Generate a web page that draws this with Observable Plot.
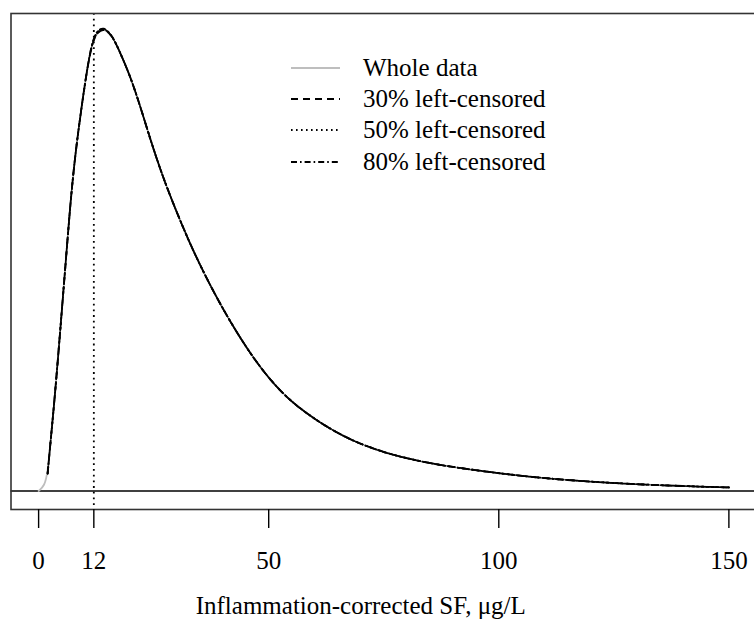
<!DOCTYPE html>
<html>
<head>
<meta charset="utf-8">
<script src="https://cdn.jsdelivr.net/npm/d3@7"></script>
<script src="https://cdn.jsdelivr.net/npm/@observablehq/plot@0.6"></script>
<style>
  html, body { margin: 0; padding: 0; background: #fff; overflow: hidden; }
  #wrap { position: relative; width: 754px; height: 627px; }
  #legend { position: absolute; left: 290px; top: 52px; font-family: "Liberation Serif", "Times New Roman", serif; font-size: 25px; color: #000; }
  #legend .row { display: flex; align-items: center; height: 31.3px; }
  #legend svg { width: 52px; height: 10px; margin-right: 21px; }
</style>
</head>
<body>
<div id="wrap"></div>
<script>
// Inflammation-corrected SF (µg/L) grid
const sf = [0, 1.30, 1.96, 2.72, 3.48, 4.35, 5.22, 6.09, 6.96, 7.83, 8.70, 9.78, 10.87, 11.74, 12.61, 13.48, 14.13, 14.78, 15.65, 16.74, 18.26, 20.00, 22.17, 24.35, 26.52, 28.70, 33.70, 40.22, 46.09, 50.43, 55.43, 64.13, 71.52, 78.70, 85.22, 89.57, 104.13, 118.48, 133.04, 150.0];
// Estimated densities (y axis unlabeled)
const densWhole = [0, 0.00043, 0.00138, 0.00438, 0.00731, 0.01110, 0.01505, 0.01900, 0.02295, 0.02611, 0.02864, 0.03148, 0.03401, 0.03543, 0.03614, 0.03638, 0.03642, 0.03634, 0.03606, 0.03543, 0.03417, 0.03267, 0.03030, 0.02769, 0.02532, 0.02319, 0.01876, 0.01418, 0.01077, 0.00871, 0.00681, 0.00466, 0.00345, 0.00267, 0.00219, 0.00191, 0.00119, 0.00075, 0.00047, 0.00028];
const dens30 = [null, null, 0.00138, 0.00438, 0.00731, 0.01110, 0.01505, 0.01900, 0.02295, 0.02611, 0.02864, 0.03148, 0.03401, 0.03543, 0.03614, 0.03638, 0.03642, 0.03634, 0.03606, 0.03543, 0.03417, 0.03267, 0.03030, 0.02769, 0.02532, 0.02319, 0.01876, 0.01418, 0.01077, 0.00871, 0.00681, 0.00466, 0.00345, 0.00267, 0.00219, 0.00191, 0.00119, 0.00075, 0.00047, 0.00028];
const dens50 = [null, null, 0.00138, 0.00438, 0.00731, 0.01110, 0.01505, 0.01900, 0.02295, 0.02611, 0.02864, 0.03148, 0.03405, 0.03550, 0.03622, 0.03646, 0.03648, 0.03638, 0.03606, 0.03543, 0.03417, 0.03267, 0.03030, 0.02769, 0.02532, 0.02319, 0.01876, 0.01418, 0.01077, 0.00871, 0.00681, 0.00466, 0.00345, 0.00267, 0.00219, 0.00191, 0.00119, 0.00075, 0.00047, 0.00028];
const dens80 = [null, null, 0.00138, 0.00438, 0.00731, 0.01110, 0.01505, 0.01900, 0.02295, 0.02611, 0.02864, 0.03148, 0.03410, 0.03556, 0.03628, 0.03652, 0.03654, 0.03642, 0.03610, 0.03543, 0.03417, 0.03267, 0.03030, 0.02769, 0.02532, 0.02319, 0.01876, 0.01418, 0.01077, 0.00871, 0.00681, 0.00466, 0.00345, 0.00267, 0.00219, 0.00191, 0.00119, 0.00075, 0.00047, 0.00028];

const seriesNames = ["Whole data", "30% left-censored", "50% left-censored", "80% left-censored"];
const seriesDens = [densWhole, dens30, dens50, dens80];
const seriesStroke = ["#bebebe", "#000", "#000", "#000"];
const seriesDash = [null, "7 5", "1.6 3.4", "6 3 1.6 3"];
const xTicks = [0, 12, 50, 100, 150];
const cutoff = [12];
const xLabel = "Inflammation-corrected SF, μg/L";

const serif = '"Liberation Serif", "Times New Roman", serif';

const lineMarks = seriesDens.map((d, i) => {
  const rows = sf.map((x, j) => ({x, y: d[j]})).filter(r => r.y != null);
  return Plot.line(rows, {x: "x", y: "y", curve: "basis", stroke: seriesStroke[i], strokeWidth: 1.8, strokeDasharray: seriesDash[i]});
});

const chart = Plot.plot({
  width: 754,
  height: 627,
  marginTop: 13,
  marginBottom: 118,
  marginLeft: 10.5,
  marginRight: -2,
  style: {fontFamily: serif, fontSize: "25px", color: "#000", background: "#fff"},
  x: {domain: [-6, 156]},
  y: {domain: [-0.00146, 0.03772], axis: null},
  marks: [
    Plot.ruleY([0], {stroke: "#000", strokeWidth: 1.5}),
    Plot.ruleX(cutoff, {stroke: "#000", strokeWidth: 1.8, strokeDasharray: "1.8 3.9"}),
    ...lineMarks,
    Plot.frame({stroke: "#333", strokeWidth: 1.6}),
    Plot.axisX(xTicks, {tickSize: 19, tickPadding: 23, stroke: "#000", strokeWidth: 1.4, fontSize: 25, label: null, tickFormat: d => String(d)}),
    Plot.text([xLabel], {frameAnchor: "bottom", dx: -23, dy: 104, fontSize: 25, fill: "#000"})
  ]
});
document.getElementById("wrap").appendChild(chart);

// legend
const legend = document.createElement("div");
legend.id = "legend";
seriesNames.forEach((name, i) => {
  const row = document.createElement("div");
  row.className = "row";
  const dash = seriesDash[i] ? `stroke-dasharray="${seriesDash[i]}"` : "";
  row.innerHTML = `<svg viewBox="0 0 52 10"><line x1="1" y1="5" x2="50" y2="5" stroke="${seriesStroke[i]}" stroke-width="1.8" ${dash}/></svg><span>${name}</span>`;
  legend.appendChild(row);
});
document.getElementById("wrap").appendChild(legend);
</script>
</body>
</html>
